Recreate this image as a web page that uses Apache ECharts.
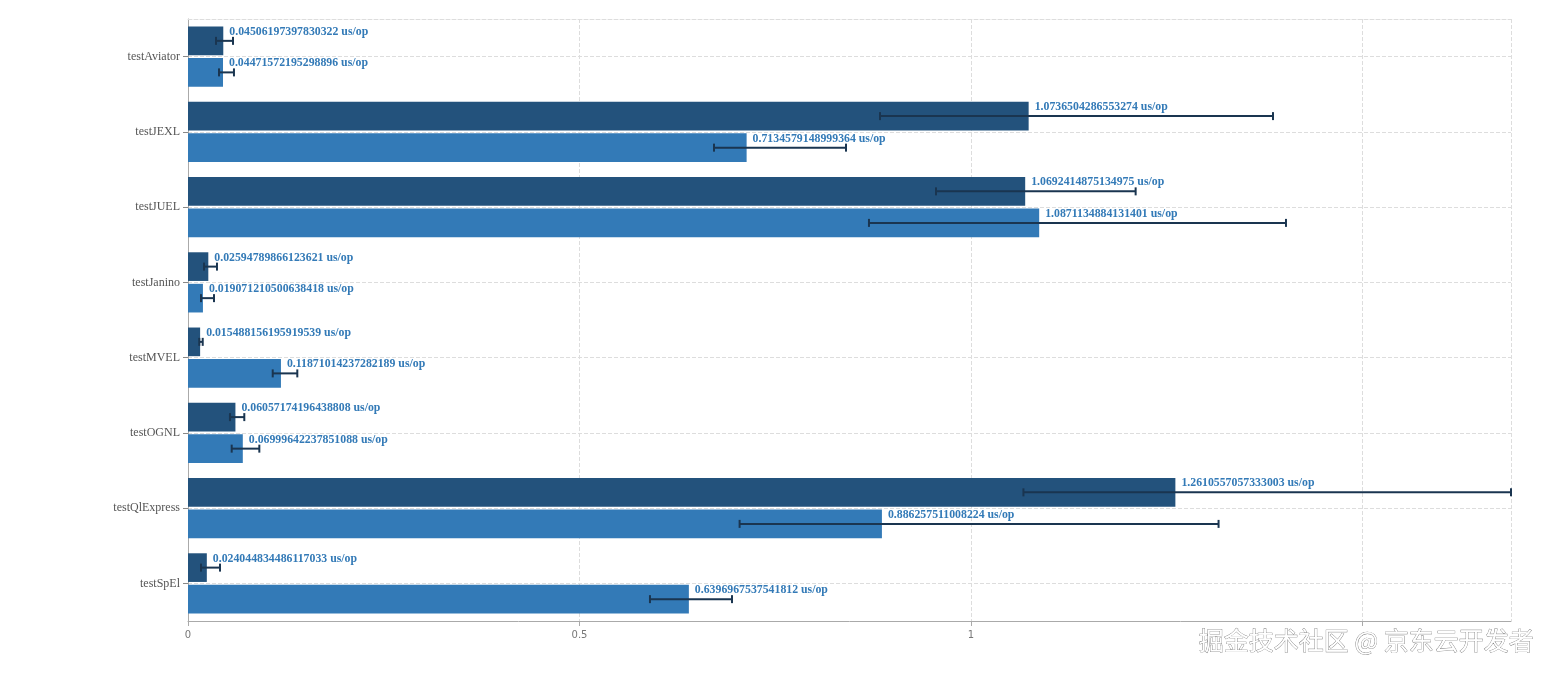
<!DOCTYPE html>
<html>
<head>
<meta charset="utf-8">
<script src="https://cdn.jsdelivr.net/npm/echarts@6/dist/echarts.min.js"></script>
<style>
html,body{margin:0;padding:0;background:#fff;}
#chart{width:1556px;height:676px;}
</style>
</head>
<body>
<div id="chart"></div>
<script>
// ---- data ----
var categories = ['testAviator', 'testJEXL', 'testJUEL', 'testJanino', 'testMVEL', 'testOGNL', 'testQlExpress', 'testSpEl'];
var seriesAValues = [0.04506197397830322, 1.0736504286553274, 1.0692414875134975, 0.02594789866123621, 0.015488156195919539, 0.06057174196438808, 1.2610557057333003, 0.024044834486117033];
var seriesBValues = [0.04471572195298896, 0.7134579148999364, 1.0871134884131401, 0.019071210500638418, 0.11871014237282189, 0.06999642237851088, 0.886257511008224, 0.6396967537541812];
var seriesALow  = [0.0358, 0.8838, 0.9553, 0.0204, 0.0144, 0.0536, 1.0670, 0.0166];
var seriesAHigh = [0.0575, 1.3857, 1.2103, 0.0370, 0.0188, 0.0719, 1.6897, 0.0409];
var seriesBLow  = [0.0396, 0.6718, 0.8697, 0.0166, 0.1082, 0.0558, 0.7045, 0.5900];
var seriesBHigh = [0.0587, 0.8404, 1.4023, 0.0332, 0.1396, 0.0911, 1.3162, 0.6948];
var unitSuffix = ' us/op';
var watermarkText = '掘金技术社区 @ 京东云开发者';

var axisMax = Math.max.apply(null, seriesAHigh.concat(seriesBHigh));

var chart = echarts.init(document.getElementById('chart'));

function errData(low, high) {
  return categories.map(function (c, i) { return [i, low[i], high[i]]; });
}
function makeErr(side) {
  return function (params, api) {
    var idx = api.value(0);
    var lo = api.coord([api.value(1), idx]);
    var hi = api.coord([api.value(2), idx]);
    var band = api.size([0, 1])[1];
    var w = band * 0.8 / 2.1;
    var off = (w * 1.1) / 2 * side;
    var y = lo[1] + off;
    var cap = 4;
    var st = { stroke: '#1a3550', lineWidth: 2 };
    return {
      type: 'group',
      children: [
        { type: 'line', shape: { x1: lo[0], y1: y, x2: hi[0], y2: y }, style: st },
        { type: 'line', shape: { x1: lo[0], y1: y - cap, x2: lo[0], y2: y + cap }, style: st },
        { type: 'line', shape: { x1: hi[0], y1: y - cap, x2: hi[0], y2: y + cap }, style: st }
      ]
    };
  };
}

var labelStyle = {
  show: true,
  position: 'right',
  distance: 6,
  offset: [0, -9],
  color: '#337ab7',
  fontFamily: 'Liberation Serif',
  fontWeight: 'bold',
  fontSize: 11.8,
  formatter: function (p) { return p.value + unitSuffix; }
};

var option = {
  animation: false,
  grid: { left: 188, right: 45, top: 19, bottom: 55 },
  xAxis: [{
    type: 'value',
    min: 0,
    max: axisMax,
    interval: 0.5,
    axisLine: { show: true, lineStyle: { color: '#aaa' } },
    axisTick: { show: true, length: 5, lineStyle: { color: '#aaa' } },
    axisLabel: {
      color: '#777', fontSize: 10, fontFamily: 'DejaVu Sans', margin: 9,
      showMaxLabel: false,
      formatter: function (v) { return v > 1 ? '' : String(v); }
    },
    splitLine: { show: true, lineStyle: { color: '#ddd', type: 'dashed' } }
  }, {
    type: 'value',
    position: 'top',
    min: 0,
    max: axisMax,
    axisLine: { show: true, lineStyle: { color: '#ddd', type: 'dashed' } },
    axisTick: { show: false },
    axisLabel: { show: false },
    splitLine: { show: false }
  }],
  yAxis: {
    type: 'category',
    inverse: true,
    data: categories,
    axisLine: { show: true, lineStyle: { color: '#aaa' } },
    axisTick: { show: true, alignWithLabel: true, length: 5, lineStyle: { color: '#888' } },
    axisLabel: { color: '#555', fontSize: 12, fontFamily: 'Liberation Serif', margin: 8, padding: [2, 0, 0, 0] },
    splitLine: { show: true, alignWithLabel: true, lineStyle: { color: '#ddd', type: 'dashed' } }
  },
  series: [{
    type: 'bar',
    data: seriesAValues,
    barCategoryGap: '20%',
    barGap: '10%',
    itemStyle: { color: '#23527c' },
    label: labelStyle,
    z: 2
  }, {
    type: 'bar',
    data: seriesBValues,
    barCategoryGap: '20%',
    barGap: '10%',
    itemStyle: { color: '#337ab7' },
    label: labelStyle,
    z: 2
  }, {
    type: 'custom',
    renderItem: makeErr(-1),
    encode: { y: 0, x: [1, 2] },
    data: errData(seriesALow, seriesAHigh),
    z: 5
  }, {
    type: 'custom',
    renderItem: makeErr(1),
    encode: { y: 0, x: [1, 2] },
    data: errData(seriesBLow, seriesBHigh),
    z: 5
  }],
  graphic: [{
    type: 'text',
    right: 22,
    top: 628,
    z: 100,
    style: {
      text: watermarkText,
      font: '25px "Noto Sans CJK SC"',
      fill: '#ffffff',
      stroke: '#6f6f6f',
      lineWidth: 0.7,
      shadowColor: 'rgba(0,0,0,0.45)',
      shadowBlur: 1,
      shadowOffsetX: 1,
      shadowOffsetY: 1.5
    }
  }]
};
chart.setOption(option);
</script>
</body>
</html>
